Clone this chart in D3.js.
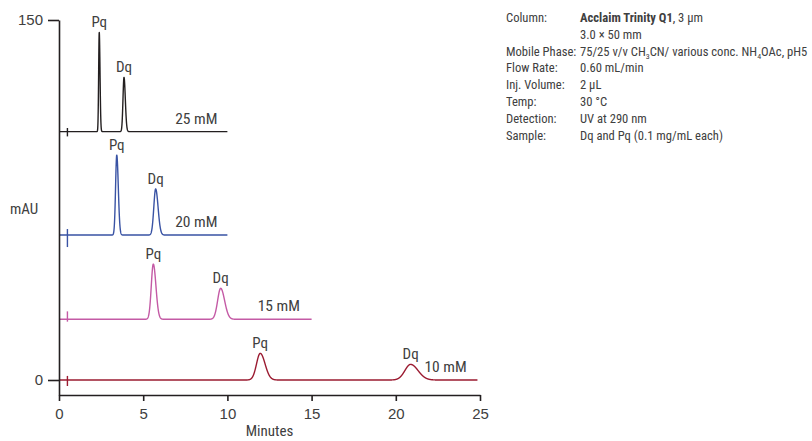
<!DOCTYPE html>
<html>
<head>
<meta charset="utf-8">
<script src="https://cdn.jsdelivr.net/npm/d3@7"></script>
<style>
  html, body { margin: 0; padding: 0; background: #fff; }
  svg { display: block; }
  text { font-family: "Liberation Sans Narrow", "Arial Narrow", "Roboto Condensed", sans-serif; fill: #404040; }
</style>
</head>
<body>
<svg id="chart" width="812" height="441"></svg>
<script>
// Chromatogram traces: one per ammonium acetate concentration
const seriesNames = ["25 mM", "20 mM", "15 mM", "10 mM"];
const seriesColors = ["#231f20", "#3953a4", "#c45aa5", "#9b1b31"];
const baselineOffset = [103.5, 60.4, 25.3, 0];      // vertical stacking offset, mAU
const runEnd = [10, 10, 15, 24.85];                 // minutes
const labelTime = [6.9, 6.9, 11.8, 21.7];           // where the concentration label starts, minutes

// Peak table (Pq, Dq) per trace
const pqTime = [2.39, 3.43, 5.60, 11.95];
const pqHeight = [41.3, 33.3, 23.0, 11.1];
const pqSigma = [0.035, 0.07, 0.12, 0.22];
const dqTime = [3.86, 5.74, 9.60, 20.88];
const dqHeight = [22.6, 19.2, 12.9, 6.5];
const dqSigma = [0.06, 0.11, 0.18, 0.34];

// Injection disturbance near t = 0.5 min
const injTime = 0.5;
const injUp = [1.5, 2.5, 3.3, 1.7];
const injDown = [2.0, 5.0, 1.0, 2.5];

// Axes
const xTicks = [0, 5, 10, 15, 20, 25];
const yTicks = [0, 150];

// Method conditions panel
const condLabels = ["Column:", "", "Mobile Phase:", "Flow Rate:", "Inj. Volume:", "Temp:", "Detection:", "Sample:"];

const svg = d3.select("#chart");
const x = d3.scaleLinear().domain([0, 25]).range([59, 480]);
const y = d3.scaleLinear().domain([-6.25, 150]).range([395, 20]);

// peak shape with slight tailing
function peak(t, rt, h, s) {
  const sd = t < rt ? s : s * 1.3;
  return h * Math.exp(-0.5 * ((t - rt) / sd) ** 2);
}

const line = d3.line().x(d => x(d[0])).y(d => y(d[1]));

seriesNames.forEach((name, i) => {
  const pts = [];
  const step = 0.004;
  for (let t = 0; t <= runEnd[i] + 1e-9; t += step) {
    pts.push([t, baselineOffset[i] + peak(t, pqTime[i], pqHeight[i], pqSigma[i]) + peak(t, dqTime[i], dqHeight[i], dqSigma[i])]);
  }
  svg.append("path")
    .attr("d", line(pts))
    .attr("fill", "none")
    .attr("stroke", seriesColors[i])
    .attr("stroke-width", 1.4)
    .attr("stroke-linejoin", "round");

  svg.append("line")
    .attr("x1", x(injTime)).attr("x2", x(injTime))
    .attr("y1", y(baselineOffset[i] + injUp[i]))
    .attr("y2", y(baselineOffset[i] - injDown[i]))
    .attr("stroke", seriesColors[i])
    .attr("stroke-width", 1.4);

  // peak labels
  [["Pq", pqTime[i], pqHeight[i]], ["Dq", dqTime[i], dqHeight[i]]].forEach(([lab, t, h]) => {
    svg.append("text")
      .attr("x", x(t))
      .attr("y", y(baselineOffset[i] + h) - 5)
      .attr("text-anchor", "middle")
      .attr("font-size", 15)
      .text(lab);
  });

  svg.append("text")
    .attr("x", x(labelTime[i]))
    .attr("y", y(baselineOffset[i]) - 8)
    .attr("font-size", 15.5)
    .text(name);
});

// x axis
const gx = svg.append("g")
  .attr("transform", `translate(0,${y(-6.25)})`)
  .call(d3.axisBottom(x).tickValues(xTicks).tickSize(6).tickSizeOuter(0).tickPadding(7));
// y axis
const gy = svg.append("g")
  .attr("transform", `translate(${x(0)},0)`)
  .call(d3.axisLeft(y).tickValues(yTicks).tickSize(11).tickSizeOuter(0).tickPadding(5));

[gx, gy].forEach(g => {
  g.selectAll("path.domain").attr("stroke", "#231f20").attr("stroke-width", 1.6);
  g.selectAll(".tick line").attr("stroke", "#231f20").attr("stroke-width", 1.6);
  g.selectAll(".tick text")
    .attr("font-size", 15)
    .attr("fill", "#404040")
    .style("font-family", "'Liberation Sans Narrow', 'Arial Narrow', sans-serif");
});

svg.append("text")
  .attr("x", (x(0) + x(25)) / 2)
  .attr("y", 436)
  .attr("text-anchor", "middle")
  .attr("font-size", 15)
  .text("Minutes");

svg.append("text")
  .attr("x", 10)
  .attr("y", 214)
  .attr("font-size", 15)
  .text("mAU");

// conditions panel
const panel = svg.append("g").attr("font-size", 12.6);
const rowY = i => 22 + i * 16.8;
condLabels.forEach((lab, i) => {
  panel.append("text").attr("x", 506).attr("y", rowY(i)).text(lab);
});
const vx = 580;
let t0 = panel.append("text").attr("x", vx).attr("y", rowY(0));
t0.append("tspan").attr("font-weight", "bold").text("Acclaim Trinity Q1");
t0.append("tspan").text(", 3 µm");
panel.append("text").attr("x", vx).attr("y", rowY(1)).text("3.0 × 50 mm");
let t2 = panel.append("text").attr("x", vx).attr("y", rowY(2));
t2.append("tspan").text("75/25 v/v CH");
t2.append("tspan").attr("font-size", 8).attr("dy", 3).text("3");
t2.append("tspan").attr("dy", -3).text("CN/ various conc. NH");
t2.append("tspan").attr("font-size", 8).attr("dy", 3).text("4");
t2.append("tspan").attr("dy", -3).text("OAc, pH5");
panel.append("text").attr("x", vx).attr("y", rowY(3)).text("0.60 mL/min");
panel.append("text").attr("x", vx).attr("y", rowY(4)).text("2 µL");
panel.append("text").attr("x", vx).attr("y", rowY(5)).text("30 °C");
panel.append("text").attr("x", vx).attr("y", rowY(6)).text("UV at 290 nm");
panel.append("text").attr("x", vx).attr("y", rowY(7)).text("Dq and Pq (0.1 mg/mL each)");
</script>
</body>
</html>
